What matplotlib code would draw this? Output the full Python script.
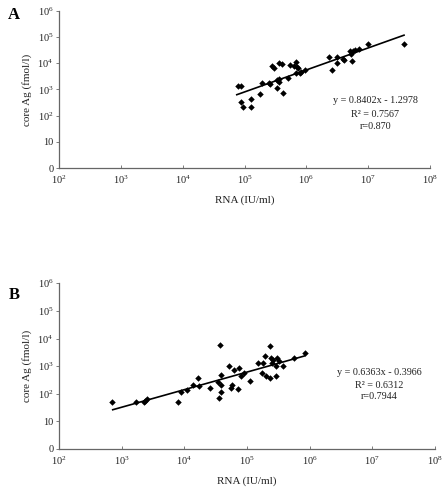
"""Core Ag vs HCV RNA, two log-log scatter panels with regression lines."""

import matplotlib
matplotlib.use("Agg")
import matplotlib.pyplot as plt
import numpy as np
from matplotlib.ticker import FixedLocator, FixedFormatter, NullLocator

plt.rcParams["font.family"] = ["Liberation Serif", "DejaVu Serif"]
plt.rcParams["mathtext.fontset"] = "custom"
plt.rcParams["mathtext.rm"] = "Liberation Serif"
plt.rcParams["mathtext.it"] = "Liberation Serif:italic"

# Panel A data (RNA IU/ml, core Ag fmol/l)
rna_a = [7.9e4, 8.7e4, 8.7e4, 9.3e4, 1.27e5, 1.27e5, 1.78e5, 1.95e5, 2.45e5, 2.57e5,
         2.75e5, 3.0e5, 3.4e5, 3.4e5, 3.55e5, 3.55e5, 3.6e5, 4.0e5, 4.2e5, 5.1e5,
         5.5e5, 6.2e5, 6.9e5, 7.1e5, 7.4e5, 6.8e5, 7.9e5, 8.3e5, 9.5e5, 2.34e6,
         2.63e6, 3.1e6, 3.16e6, 3.9e6, 4.1e6, 5.0e6, 5.2e6, 5.4e6, 5.75e6, 6.2e6,
         7.2e6, 1.0e7, 3.8e7]
ag_a = [1340, 1340, 340, 220, 430, 220, 680, 1700, 1700, 1580,
        8100, 6600, 2240, 1170, 2000, 2500, 9800, 9100, 760, 2750,
        8900, 8100, 11200, 7200, 6300, 4100, 4300, 4700, 5750, 17400,
        5750, 9800, 17400, 15100, 13200, 29500, 23400, 12000, 29500, 31600,
        36300, 56000, 56000]
slope_a, intercept_a = 0.8402, -1.2978
fit_range_a = [7.5e4, 3.8e7]
stats_a = ["y = 0.8402x - 1.2978", "R\u00b2 = 0.7567", "r=0.870"]

# Panel B data
rna_b = [690, 1700, 2290, 2340, 2500, 7900, 8700, 11000, 13800, 16600,
         17000, 25700, 33900, 35500, 37200, 38900, 38900, 38900, 52500, 55000,
         57500, 61700, 72400, 74100, 79400, 91200, 1.1e5, 1.48e5, 1.74e5, 1.82e5,
         1.91e5, 2.04e5, 2.29e5, 2.34e5, 2.45e5, 2.51e5, 2.63e5, 2.88e5, 2.95e5,
         3.02e5, 3.24e5, 3.72e5, 5.62e5, 8.32e5]
ag_b = [49, 49, 49, 56, 65, 49, 120, 138, 214, 370,
        186, 158, 270, 72, 5900, 490, 214, 112, 1020, 158,
        214, 740, 148, 830, 430, 560, 295, 1260, 560, 1290,
        2340, 450, 370, 5400, 2040, 1350, 1660, 450, 980,
        1950, 1550, 1020, 1950, 3090]
slope_b, intercept_b = 0.6363, -0.3966
fit_range_b = [720, 8.3e5]
stats_b = ["y = 0.6363x - 0.3966", "R\u00b2 = 0.6312", "r=0.7944"]

x_ticks = [1e2, 1e3, 1e4, 1e5, 1e6, 1e7, 1e8]
x_labels = ["$10^{2}$", "$10^{3}$", "$10^{4}$", "$10^{5}$", "$10^{6}$", "$10^{7}$", "$10^{8}$"]
y_ticks = [1, 10, 1e2, 1e3, 1e4, 1e5, 1e6]
y_labels = ["0", "10", "$10^{2}$", "$10^{3}$", "$10^{4}$", "$10^{5}$", "$10^{6}$"]

TXT = "#222222"
AX = "#666666"


def draw_panel(ax, rna, ag, slope, intercept, fit_range, stats, stats_y, letter, letter_xy):
    ax.set_xscale("log")
    ax.set_yscale("log")
    ax.set_xlim(1e2, 1e8)
    ax.set_ylim(1, 1e6)

    ax.plot(rna, ag, linestyle="none", marker="D", markersize=3.3,
            color="black", markeredgewidth=0)
    fx = np.array(fit_range)
    fy = 10 ** (slope * np.log10(fx) + intercept)
    ax.plot(fx, fy, color="black", linewidth=1.2)

    for s in ("top", "right"):
        ax.spines[s].set_visible(False)
    for s in ("left", "bottom"):
        ax.spines[s].set_color(AX)
        ax.spines[s].set_linewidth(0.9)

    ax.xaxis.set_major_locator(FixedLocator(x_ticks))
    ax.xaxis.set_major_formatter(FixedFormatter(x_labels))
    ax.yaxis.set_major_locator(FixedLocator(y_ticks))
    ax.yaxis.set_major_formatter(FixedFormatter(y_labels))
    ax.xaxis.set_minor_locator(NullLocator())
    ax.yaxis.set_minor_locator(NullLocator())
    ax.tick_params(axis="x", direction="in", length=2, width=0.6, color=AX,
                   labelsize=7.5, labelcolor=TXT, pad=4)
    ax.tick_params(axis="y", direction="out", length=2, width=0.6, color=AX,
                   labelsize=7.5, labelcolor=TXT, pad=2)

    ax.set_xlabel("RNA (IU/ml)", fontsize=8, color=TXT, labelpad=7)
    ax.set_ylabel("core Ag (fmol/l)", fontsize=8, color=TXT, labelpad=4)

    for line, yy in zip(stats, stats_y):
        ax.text(0.853, yy, line, transform=ax.transAxes, ha="center",
                va="center", fontsize=7.3, color=TXT)

    ax.text(letter_xy[0], letter_xy[1], letter, transform=ax.transAxes,
            ha="center", va="center", fontsize=12, fontweight="bold", color="black")


fig = plt.figure(figsize=(4.47, 4.92), dpi=100)
ax_a = fig.add_axes([0.132, 0.6585, 0.830, 0.3195])
ax_b = fig.add_axes([0.132, 0.0874, 0.841, 0.3368])

draw_panel(ax_a, rna_a, ag_a, slope_a, intercept_a, fit_range_a, stats_a,
           [0.432, 0.343, 0.267], "A", (-0.122, 0.975))
draw_panel(ax_b, rna_b, ag_b, slope_b, intercept_b, fit_range_b, stats_b,
           [0.46, 0.384, 0.316], "B", (-0.118, 0.93))

fig.savefig("out.png", dpi=100)
